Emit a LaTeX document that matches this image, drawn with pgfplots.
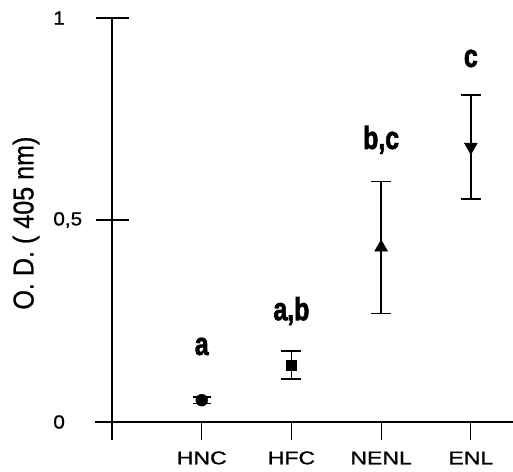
\documentclass[border=0pt]{standalone}
\usepackage{fontspec}
\setmainfont{Liberation Sans}
\newfontfamily\letterfam{Liberation Sans}[BoldFeatures={FakeBold=2.4}]
\newfontfamily\scanfam{Liberation Sans}[FakeBold=0.9]
\usepackage{graphicx}
\usepackage{pgfplots}
\pgfplotsset{compat=1.18}
\usetikzlibrary{calc}
\newcommand\letterfont{\fontsize{32}{32}\selectfont\letterfam\bfseries}
\newcommand\tlfont{\fontsize{19}{19}\selectfont\scanfam}
\newcommand\catfont{\fontsize{18.5}{18.5}\selectfont\scanfam}

\begin{document}
\begin{tikzpicture}
\begin{axis}[
  scale only axis, width=418bp, height=422bp,
  xmin=-0.19, xmax=4.47, ymin=-0.0446, ymax=1,
  axis lines=middle, axis line style={-, line width=1.8bp},
  hide obscured x ticks=false, hide obscured y ticks=false,
  xtick={0,1,2,3,4}, xticklabels={,,,,},
  ytick={0,0.5,1}, yticklabels={,,},
  major tick length=33bp,
  ytick align=center, xtick align=outside,
  xtick style={/pgfplots/major tick length=18bp},
  tick style={black, line width=1.2bp},
  ylabel={\scalebox{1.05}[1.2]{O. D. ( 405 nm)}},
  ylabel style={at={(axis description cs:-0.165,0.514)}, rotate=90, anchor=center,
                font=\fontsize{24}{24}\selectfont\scanfam},
  clip=false]
\addplot[black, only marks, mark=*, mark size=6bp,
  error bars/.cd, y dir=both, y explicit,
  error bar style={line width=1.6bp},
  error mark options={rotate=90, mark size=9bp, line width=1.6bp}]
  coordinates {(1,0.054) +- (0,0.008)};
\addplot[black, only marks, mark=square*, mark size=5bp,
  error bars/.cd, y dir=both, y explicit,
  error bar style={line width=1.6bp},
  error mark options={rotate=90, mark size=10bp, line width=1.6bp}]
  coordinates {(2,0.141) +- (0,0.035)};
\addplot[black, only marks, mark=triangle*, mark size=7.5bp,
  error bars/.cd, y dir=both, y explicit,
  error bar style={line width=1.6bp},
  error mark options={rotate=90, mark size=10bp, line width=1.6bp}]
  coordinates {(3,0.432) +- (0,0.163)};
\addplot[black, only marks, mark=triangle*, mark size=7.5bp, mark options={rotate=180},
  error bars/.cd, y dir=both, y explicit,
  error bar style={line width=1.6bp},
  error mark options={rotate=90, mark size=10bp, line width=1.6bp}]
  coordinates {(4,0.681) +- (0,0.129)};
% significance letters
\node[anchor=base, font=\letterfont] at (axis cs:1,0.166) {\scalebox{0.78}[1]{a}};
\node[anchor=base, font=\letterfont] at (axis cs:2,0.252) {\scalebox{0.78}[1]{a,b}};
\node[anchor=base, font=\letterfont] at (axis cs:3,0.676) {\scalebox{0.78}[1]{b,c}};
\node[anchor=base, font=\letterfont] at (axis cs:4,0.879) {\scalebox{0.78}[1]{c}};
% tick labels
\node[anchor=west, inner sep=0pt, font=\tlfont] at (axis cs:-0.657,0) {\scalebox{1.1}[1]{0}};
\node[anchor=west, inner sep=0pt, font=\tlfont] at (axis cs:-0.657,0.5) {\scalebox{1.1}[1]{0,5}};
\node[anchor=west, inner sep=0pt, font=\tlfont] at (axis cs:-0.657,1) {\scalebox{1.1}[1]{1}};
\node[inner sep=0pt, font=\catfont] at (axis cs:1,-0.089) {\scalebox{1.25}[1]{HNC}};
\node[inner sep=0pt, font=\catfont] at (axis cs:2,-0.089) {\scalebox{1.25}[1]{HFC}};
\node[inner sep=0pt, font=\catfont] at (axis cs:3,-0.089) {\scalebox{1.25}[1]{NENL}};
\node[inner sep=0pt, font=\catfont] at (axis cs:4,-0.089) {\scalebox{1.25}[1]{ENL}};
\coordinate (bl) at (rel axis cs:0,0);
\coordinate (tr) at (rel axis cs:1,1);
\end{axis}
\pgfresetboundingbox
\path ($(bl)+(-95bp,-32bp)$) rectangle ($(tr)+(0,18bp)$);
\end{tikzpicture}
\end{document}
